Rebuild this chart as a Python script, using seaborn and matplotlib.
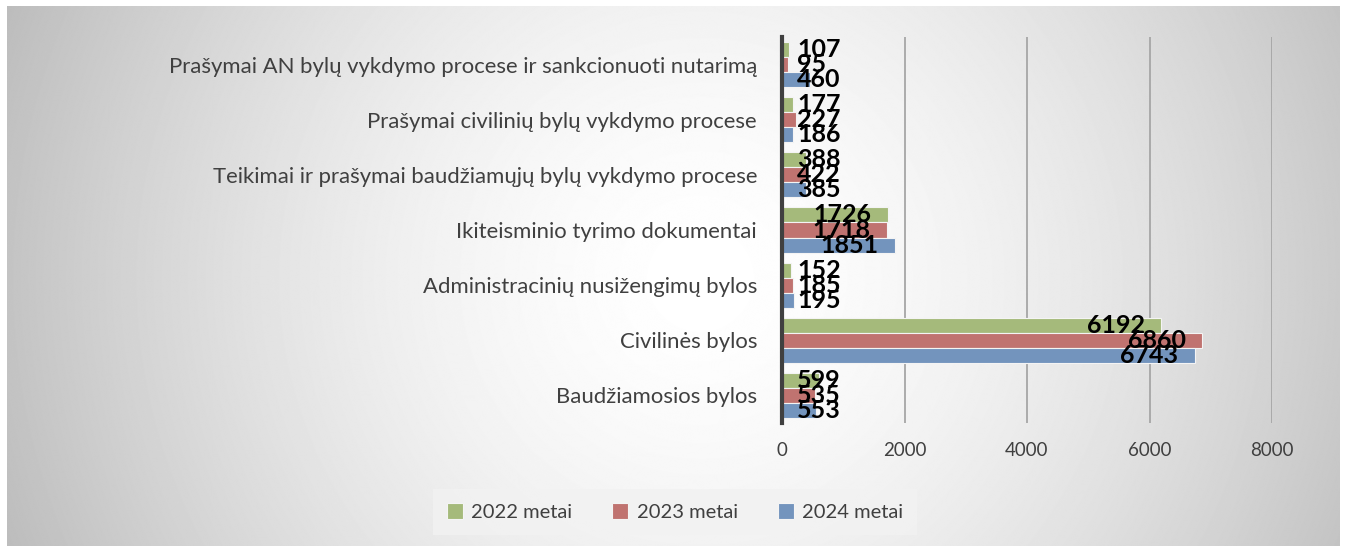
import numpy as np
import pandas as pd
import matplotlib
matplotlib.use("Agg")
import matplotlib.pyplot as plt
import seaborn as sns

# Data
categories = [
    "Prašymai AN bylų vykdymo procese ir sankcionuoti nutarimą",
    "Prašymai civilinių bylų vykdymo procese",
    "Teikimai ir prašymai baudžiamųjų bylų vykdymo procese",
    "Ikiteisminio tyrimo dokumentai",
    "Administracinių nusižengimų bylos",
    "Civilinės bylos",
    "Baudžiamosios bylos",
]

series_names = ["2022 metai", "2023 metai", "2024 metai"]

values_2022 = [107, 177, 388, 1726, 152, 6192, 599]
values_2023 = [95, 227, 422, 1718, 185, 6860, 535]
values_2024 = [460, 186, 385, 1851, 195, 6743, 553]

x_ticks = [0, 2000, 4000, 6000, 8000]

colors = ["#A9C470", "#CD6763", "#6793C9"]
text_color = "#404040"

# Long-form table
df = pd.DataFrame({
    "category": categories * 3,
    "series": [s for s in series_names for _ in categories],
    "value": values_2022 + values_2023 + values_2024,
})

sns.set_style("white")
plt.rcParams["font.family"] = ["Lato", "DejaVu Sans"]

fig = plt.figure(figsize=(13.46, 5.46), dpi=100)
fig.patch.set_facecolor("white")

# Radial gradient background
W, H = 1346, 546
yy, xx = np.mgrid[0:H, 0:W]
d = np.sqrt((xx - 700) ** 2 + (yy - 275) ** 2) / 730.0
shade = 1 - 0.25 * np.clip(d, 0, 1.2) ** 1.6
bg_ax = fig.add_axes([7 / W, 0, (1340 - 7) / W, (546 - 6) / H], zorder=-10)
bg_ax.imshow(shade, cmap="gray", vmin=0, vmax=1, aspect="auto",
             extent=[0, 1, 0, 1])
bg_ax.axis("off")

ax = fig.add_axes([782 / W, 1 - 423 / H, (1272 - 782) / W, (423 - 37) / H])
ax.patch.set_alpha(0)

sns.barplot(
    data=df,
    y="category",
    x="value",
    hue="series",
    order=categories,
    hue_order=series_names,
    palette=colors,
    orient="h",
    width=0.82,
    edgecolor="#F4F4F4",
    linewidth=0.8,
    ax=ax,
)

ax.set_xlim(0, 8000)
ax.set_xticks(x_ticks)
ax.set_xticklabels([str(t) for t in x_ticks])
ax.set_xlabel("")
ax.set_ylabel("")

ax.grid(axis="x", color="#A6A6A6", linewidth=1.3)
ax.set_axisbelow(True)

for side in ["top", "right", "bottom"]:
    ax.spines[side].set_visible(False)
ax.spines["left"].set_color("#404040")
ax.spines["left"].set_linewidth(3)
ax.spines["left"].set_zorder(5)

ax.tick_params(axis="y", length=0, pad=18, labelsize=15.9, labelcolor=text_color)
ax.tick_params(axis="x", length=0, pad=14, labelsize=13.5, labelcolor=text_color)

# Data labels
for container in ax.containers:
    for bar in container:
        v = bar.get_width()
        yc = bar.get_y() + bar.get_height() / 2
        if v < 1000:
            ax.annotate(f"{int(round(v))}", xy=(0, yc), xytext=(11, 0),
                        textcoords="offset points", ha="left", va="center",
                        fontsize=18, fontweight="bold", color="black",
                        zorder=6)
        else:
            ax.annotate(f"{int(round(v))}", xy=(v, yc), xytext=(-12, 0),
                        textcoords="offset points", ha="right", va="center",
                        fontsize=18, fontweight="bold", color="black",
                        zorder=6)

# Legend
handles, labels = ax.get_legend_handles_labels()
ax.get_legend().remove()
leg = fig.legend(
    handles, labels,
    loc="center",
    bbox_to_anchor=(675 / W, 1 - 512 / H),
    ncol=3,
    frameon=True,
    fontsize=14.5,
    handlelength=0.8,
    handleheight=0.8,
    handletextpad=0.4,
    columnspacing=2.0,
    borderpad=0.7,
    fancybox=False,
)
leg.get_frame().set_facecolor("#F2F2F2")
leg.get_frame().set_edgecolor("none")
for t in leg.get_texts():
    t.set_color(text_color)

fig.savefig("out.png", dpi=100)
